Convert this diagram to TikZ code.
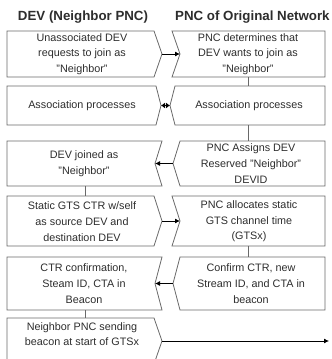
\documentclass[tikz,border=0pt]{standalone}
\usepackage{fontspec}
\setmainfont{Liberation Sans}
\usetikzlibrary{arrows.meta}
\definecolor{boxgray}{RGB}{105,105,105}
\definecolor{txtgray}{RGB}{45,45,45}

\begin{document}
\begin{tikzpicture}[
    x=1pt, y=-1pt,
    box/.style={draw=boxgray, line width=0.8pt},
    txt/.style={align=center, text=txtgray, font=\fontsize{10.8}{15.7}\selectfont},
    head/.style={font=\bfseries\fontsize{13.3}{15}\selectfont, text=txtgray, inner sep=0pt},
    arr/.style={-{Latex[length=5pt,width=5pt]}, line width=0.8pt, black},
    both/.style={{Latex[length=4pt,width=6pt]}-{Latex[length=4pt,width=6pt]}, line width=0.8pt, black},
    link/.style={draw=boxgray, line width=0.8pt},
]
    \useasboundingbox (0,0) rectangle (332,359);
    \clip (0,0) rectangle (332,359);

    % Column headings
    \node[head, anchor=base] (hdev) at (83,20) {DEV (Neighbor PNC)};
    \node[head, anchor=base west] (hpnc) at (175,20) {PNC of Original Network};

    % Row 1: join request
    \draw[box] (7,31) -- (154,31) -- (162,54) coordinate (d1) -- (154,77) -- (7,77) -- cycle;
    \draw[box] (172,31) -- (325,31) -- (325,77) -- (248,77) coordinate (p1s) -- (172,77) -- (180,54) coordinate (p1) -- cycle;
    \node[txt] (dev1) at (82,54) {Unassociated DEV\\requests to join as\\"Neighbor"};
    \node[txt] (pnc1) at (248,54) {PNC determines that\\DEV wants to join as\\"Neighbor"};
    \draw[arr] (d1) -- (p1);

    % Row 2: association
    \draw[box] (7,86) -- (156,86) -- (161,105.5) coordinate (d2) -- (156,125) -- (7,125) -- cycle;
    \draw[box] (175,86) -- (248,86) coordinate (p2n) -- (325,86) -- (325,125) -- (248,125) coordinate (p2s) -- (175,125) -- (170,105.5) coordinate (p2) -- cycle;
    \node[txt] (dev2) at (82,105.5) {Association processes};
    \node[txt] (pnc2) at (249,105.5) {Association processes};
    \draw[link] (p1s) -- (p2n);
    \draw[both] (d2) -- (p2);

    % Row 3: DEVID
    \draw[box] (7,141) -- (162,141) -- (155,163.5) coordinate (d3) -- (162,186) -- (85,186) coordinate (d3s) -- (7,186) -- cycle;
    \draw[box] (180,141) -- (248,141) coordinate (p3n) -- (325,141) -- (325,186) -- (180,186) -- (173,163.5) coordinate (p3) -- cycle;
    \node[txt] (dev3) at (84,163.5) {DEV joined as\\"Neighbor"};
    \node[txt] (pnc3) at (251,163.5) {PNC Assigns DEV\\Reserved "Neighbor"\\DEVID};
    \draw[link] (p2s) -- (p3n);
    \draw[arr] (p3) -- (d3);

    % Row 4: static GTS
    \draw[box] (7,196) -- (85,196) coordinate (d4n) -- (154,196) -- (162,221) coordinate (d4) -- (154,246) -- (7,246) -- cycle;
    \draw[box] (172,196) -- (325,196) -- (325,246) -- (248,246) coordinate (p4s) -- (172,246) -- (180,221) coordinate (p4) -- cycle;
    \node[txt] (dev4) at (82,221.5) {Static GTS CTR w/self\\as source DEV and\\destination DEV};
    \node[txt] (pnc4) at (249,221.5) {PNC allocates static\\GTS channel time\\(GTSx)};
    \draw[link] (d3s) -- (d4n);
    \draw[arr] (d4) -- (p4);

    % Row 5: confirmation
    \draw[box] (7,257) -- (162,257) -- (155,283.5) coordinate (d5) -- (162,310) -- (85,310) coordinate (d5s) -- (7,310) -- cycle;
    \draw[box] (180,257) -- (248,257) coordinate (p5n) -- (325,257) -- (325,310) -- (180,310) -- (173,283.5) coordinate (p5) -- cycle;
    \node[txt] (dev5) at (84,283.5) {CTR confirmation,\\Steam ID, CTA in\\Beacon};
    \node[txt] (pnc5) at (251,283.5) {Confirm CTR, new\\Stream ID, and CTA in\\beacon};
    \draw[link] (p4s) -- (p5n);
    \draw[arr] (p5) -- (d5);

    % Row 6: beacon
    \draw[box] (7,318) -- (85,318) coordinate (d6n) -- (154,318) -- (162,341) coordinate (d6) -- (154,364) -- (7,364) -- cycle;
    \node[txt] (dev6) at (82,334) {Neighbor PNC sending\\beacon at start of GTSx};
    \coordinate (gtsx) at (329,341);
    \draw[link] (d5s) -- (d6n);
    \draw[arr] (d6) -- (gtsx);
\end{tikzpicture}
\end{document}
